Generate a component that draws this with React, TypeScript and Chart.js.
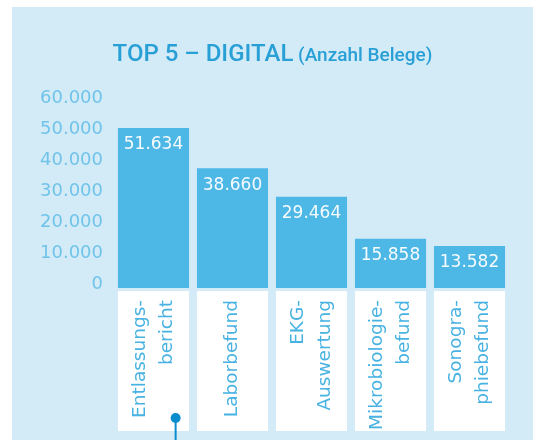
import React, { useEffect, useRef } from "react";
import { Chart, registerables } from "chart.js";

Chart.register(...registerables);

const categories: string[][] = [
  ["Entlassungs-", "bericht"],
  ["Laborbefund"],
  ["EKG-", "Auswertung"],
  ["Mikrobiologie-", "befund"],
  ["Sonogra-", "phiebefund"],
];
const values: number[] = [51634, 38660, 29464, 15858, 13582];
const valueLabels: string[] = ["51.634", "38.660", "29.464", "15.858", "13.582"];
const yTicks: number[] = [0, 10000, 20000, 30000, 40000, 50000, 60000];
const titleMain = "TOP 5 – DIGITAL";
const titleSub = " (Anzahl Belege)";

const PANEL = "rgb(211,234,247)";
const BAR = "rgb(77,183,230)";
const TICK = "rgb(112,196,234)";
const LABEL = "rgb(72,178,226)";
const TITLE = "rgb(40,160,214)";
const DOT = "rgb(10,140,205)";
const FONT = "'DejaVu Sans', sans-serif";
const TFONT = "Roboto, sans-serif";

const fmt = (v: number) => v.toLocaleString("de-DE");

const decor = {
  id: "decor",
  beforeDraw(chart: any) {
    const { ctx, width, height, chartArea } = chart;
    ctx.save();
    ctx.fillStyle = "#ffffff";
    ctx.fillRect(0, 0, width, height);
    ctx.fillStyle = PANEL;
    ctx.fillRect(12, 7, width - 12, height - 7);
    // title
    ctx.textBaseline = "alphabetic";
    ctx.font = `500 24px ${TFONT}`;
    const w1 = ctx.measureText(titleMain).width;
    ctx.font = `500 19px ${TFONT}`;
    const w2 = ctx.measureText(titleSub).width;
    const cx = (12 + width) / 2;
    const x = cx - (w1 + w2) / 2;
    ctx.fillStyle = TITLE;
    ctx.textAlign = "left";
    ctx.font = `500 24px ${TFONT}`;
    ctx.fillText(titleMain, x, 61);
    ctx.font = `500 19px ${TFONT}`;
    ctx.fillText(titleSub, x + w1, 61);
    // white label boxes
    const meta = chart.getDatasetMeta(0);
    ctx.fillStyle = "#ffffff";
    meta.data.forEach((bar: any) => {
      const half = bar.width / 2;
      ctx.fillRect(bar.x - half, chartArea.bottom + 3, bar.width, 140);
    });
    ctx.restore();
  },
  afterDatasetsDraw(chart: any) {
    const { ctx, chartArea } = chart;
    const meta = chart.getDatasetMeta(0);
    const xs = chart.scales.x;
    ctx.save();
    // value labels
    ctx.fillStyle = "rgba(255,255,255,0.95)";
    ctx.font = `17px ${FONT}`;
    ctx.textAlign = "center";
    ctx.textBaseline = "middle";
    meta.data.forEach((bar: any, i: number) => {
      ctx.fillText(valueLabels[i], bar.x, bar.y + 17);
    });
    // rotated category labels
    const lh = 27;
    ctx.fillStyle = LABEL;
    ctx.font = `18.5px ${FONT}`;
    ctx.textAlign = "right";
    ctx.textBaseline = "middle";
    categories.forEach((lines, i) => {
      const px = xs.getPixelForTick(i);
      lines.forEach((line, j) => {
        const lx = px + (j - (lines.length - 1) / 2) * lh;
        ctx.save();
        ctx.translate(lx, chartArea.bottom + 12);
        ctx.rotate(-Math.PI / 2);
        ctx.fillText(line, 0, 0);
        ctx.restore();
      });
    });
    // connector dot
    const step = xs.getPixelForValue(1) - xs.getPixelForValue(0);
    const dx = xs.getPixelForValue(0) + step * 0.28;
    const dy = chartArea.bottom + 130;
    ctx.strokeStyle = DOT;
    ctx.lineWidth = 2;
    ctx.beginPath();
    ctx.moveTo(dx, dy);
    ctx.lineTo(dx, chart.height);
    ctx.stroke();
    ctx.fillStyle = DOT;
    ctx.beginPath();
    ctx.arc(dx, dy, 5, 0, Math.PI * 2);
    ctx.fill();
    ctx.restore();
  },
};

export default function App() {
  const ref = useRef<HTMLCanvasElement>(null);
  useEffect(() => {
    if (!ref.current) return;
    const chart = new Chart(ref.current, {
      type: "bar",
      data: {
        labels: categories.map((l) => l.join(" ")),
        datasets: [
          {
            data: values,
            backgroundColor: BAR,
            borderWidth: 0,
            barPercentage: 0.9,
            categoryPercentage: 1,
          },
        ],
      },
      options: {
        animation: false,
        responsive: false,
        devicePixelRatio: 1,
        layout: { padding: { top: 102, right: 24, bottom: 0, left: 0 } },
        plugins: {
          legend: { display: false },
          title: { display: false },
          tooltip: { enabled: false },
        },
        scales: {
          x: {
            grid: { display: false, drawTicks: false },
            border: { display: false },
            afterFit: (s: any) => {
              s.height = 152;
            },
            ticks: { display: false },
          },
          y: {
            min: 0,
            max: 60000,
            grid: { display: false, drawTicks: false },
            border: { display: false },
            afterFit: (s: any) => {
              s.width = 114;
            },
            afterBuildTicks: (s: any) => {
              s.ticks = yTicks.map((v) => ({ value: v }));
            },
            ticks: {
              padding: 11,
              labelOffset: -4,
              color: TICK,
              font: { family: FONT, size: 18 },
              callback: (v: any) => fmt(Number(v)),
            },
          },
        },
      },
      plugins: [decor],
    });
    return () => chart.destroy();
  }, []);
  return (
    <div style={{ position: "fixed", left: 0, top: 0, width: 533, height: 440 }}>
      <canvas ref={ref} width={533} height={440} style={{ display: "block" }} />
    </div>
  );
}
